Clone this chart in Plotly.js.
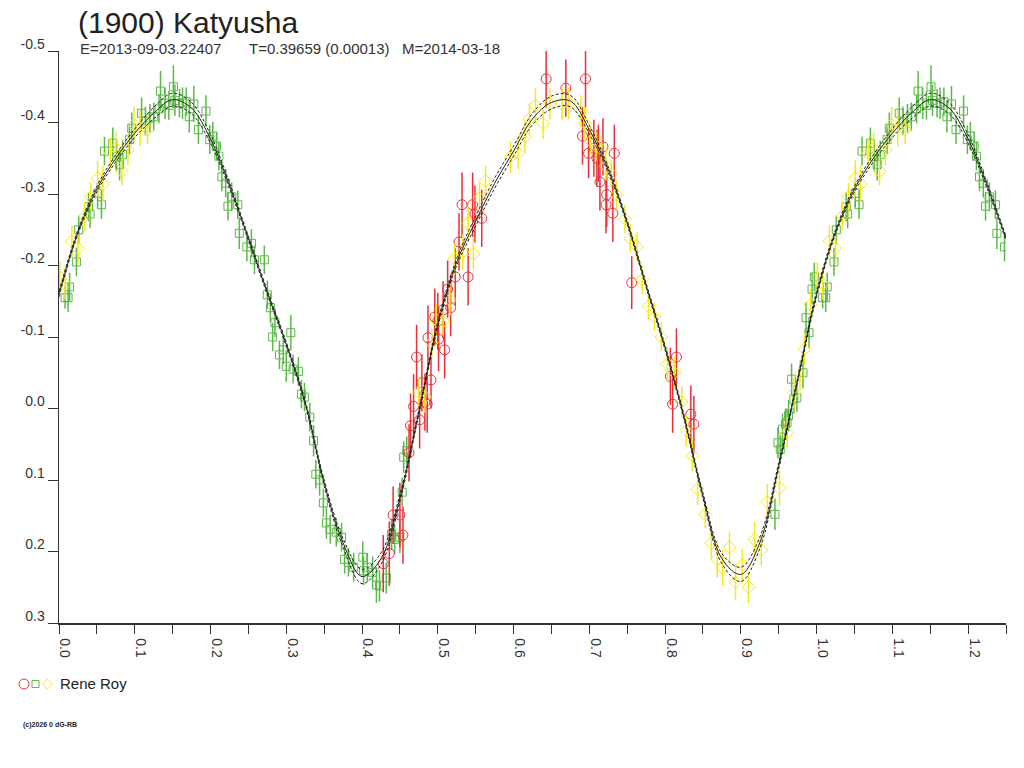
<!DOCTYPE html>
<html>
<head>
<meta charset="utf-8">
<script src="https://cdn.plot.ly/plotly-3.0.1.min.js"></script>
<style>
  html, body { margin: 0; padding: 0; background: #fff; }
  #chart { width: 1024px; height: 768px; }
</style>
</head>
<body>
<div id="chart"></div>
<script>
// observations: [phase, magnitude, error]
const greenObs = [
  [0.008,-0.155,0.015],[0.012,-0.155,0.02],[0.014,-0.170,0.02],[0.023,-0.205,0.02],[0.026,-0.250,0.02],
  [0.039,-0.282,0.02],[0.041,-0.272,0.02],[0.051,-0.301,0.02],[0.056,-0.285,0.02],[0.060,-0.360,0.02],
  [0.071,-0.371,0.022],[0.076,-0.352,0.02],[0.080,-0.341,0.022],[0.084,-0.355,0.02],[0.093,-0.376,0.02],
  [0.096,-0.392,0.022],[0.109,-0.413,0.022],[0.114,-0.402,0.02],[0.120,-0.406,0.02],[0.125,-0.408,0.02],
  [0.132,-0.419,0.02],[0.134,-0.444,0.028],[0.140,-0.427,0.022],[0.145,-0.424,0.02],[0.151,-0.450,0.03],
  [0.153,-0.431,0.022],[0.159,-0.427,0.02],[0.163,-0.427,0.022],[0.168,-0.429,0.02],[0.172,-0.408,0.022],
  [0.178,-0.426,0.025],[0.184,-0.390,0.02],[0.194,-0.416,0.022],[0.199,-0.376,0.02],[0.203,-0.381,0.02],
  [0.208,-0.367,0.02],[0.211,-0.353,0.02],[0.215,-0.324,0.02],[0.220,-0.315,0.02],[0.223,-0.283,0.02],
  [0.228,-0.296,0.02],[0.236,-0.285,0.02],[0.238,-0.245,0.022],[0.248,-0.226,0.02],[0.254,-0.231,0.02],
  [0.258,-0.208,0.02],[0.271,-0.208,0.02],[0.275,-0.159,0.02],[0.279,-0.141,0.02],[0.282,-0.100,0.02],
  [0.285,-0.120,0.02],[0.291,-0.075,0.02],[0.296,-0.082,0.02],[0.300,-0.059,0.022],[0.306,-0.106,0.025],
  [0.309,-0.055,0.02],[0.316,-0.052,0.02],[0.320,-0.020,0.02],[0.324,-0.016,0.02],[0.331,0.012,0.02],
  [0.336,0.045,0.022],[0.339,0.092,0.02],[0.344,0.100,0.022],[0.349,0.132,0.02],[0.353,0.160,0.022],
  [0.358,0.169,0.02],[0.366,0.173,0.02],[0.373,0.180,0.02],[0.377,0.211,0.02],[0.382,0.215,0.02],
  [0.389,0.222,0.02],[0.401,0.208,0.022],[0.402,0.227,0.02],[0.407,0.222,0.02],[0.414,0.229,0.022],
  [0.419,0.247,0.025],[0.423,0.248,0.022],[0.432,0.237,0.022],[0.439,0.176,0.022],[0.443,0.183,0.02],
  [0.450,0.180,0.022],[0.453,0.117,0.02],[0.455,0.068,0.022],[0.459,0.059,0.02],
  [0.945,0.148,0.022],[0.949,0.048,0.022],[0.952,0.057,0.02],[0.955,0.029,0.022],[0.959,0.022,0.022],
  [0.961,0.020,0.02],[0.963,0.010,0.022],[0.967,-0.041,0.022],[0.970,-0.013,0.02],[0.974,-0.015,0.02],
  [0.982,-0.050,0.022],[0.986,-0.127,0.022],[0.990,-0.106,0.022],[0.994,-0.167,0.022],[0.997,-0.184,0.02]
];

const redObs = [
  [0.428,0.217,0.04],[0.436,0.203,0.045],[0.441,0.149,0.04],[0.450,0.149,0.045],[0.454,0.177,0.04],
  [0.462,0.062,0.04],[0.464,0.024,0.045],[0.468,-0.003,0.045],[0.472,-0.072,0.045],[0.476,0.016,0.04],
  [0.479,-0.036,0.04],[0.483,-0.009,0.04],[0.486,-0.006,0.04],[0.487,-0.099,0.045],[0.491,-0.040,0.04],
  [0.496,-0.128,0.04],[0.500,-0.122,0.04],[0.501,-0.097,0.045],[0.507,-0.138,0.04],[0.509,-0.082,0.04],
  [0.513,-0.167,0.04],[0.517,-0.141,0.04],[0.523,-0.184,0.04],[0.528,-0.233,0.04],[0.532,-0.285,0.045],
  [0.540,-0.184,0.04],[0.546,-0.285,0.045],[0.549,-0.272,0.04],[0.558,-0.266,0.04],
  [0.643,-0.461,0.04],[0.669,-0.448,0.04],[0.695,-0.461,0.04],[0.691,-0.381,0.04],[0.699,-0.357,0.035],
  [0.706,-0.364,0.04],[0.710,-0.350,0.04],[0.712,-0.357,0.04],[0.714,-0.317,0.04],[0.718,-0.366,0.04],
  [0.722,-0.285,0.04],[0.723,-0.299,0.045],[0.731,-0.273,0.04],[0.733,-0.357,0.04],[0.756,-0.176,0.037],
  [0.807,-0.045,0.04],[0.810,-0.006,0.04],[0.815,-0.072,0.04],[0.834,0.008,0.04],[0.838,0.022,0.04]
];

const yellowObs = [
  [0.001,-0.183,0.022],[0.008,-0.174,0.022],[0.017,-0.234,0.022],[0.025,-0.224,0.022],[0.034,-0.269,0.02],
  [0.042,-0.296,0.02],[0.051,-0.322,0.025],[0.058,-0.314,0.025],[0.068,-0.357,0.022],[0.075,-0.364,0.022],
  [0.083,-0.332,0.02],[0.091,-0.362,0.022],[0.099,-0.397,0.025],[0.107,-0.392,0.025],[0.117,-0.390,0.02],
  [0.475,-0.023,0.02],[0.483,-0.016,0.022],[0.492,-0.092,0.02],[0.498,-0.124,0.022],[0.507,-0.122,0.02],
  [0.516,-0.152,0.022],[0.522,-0.209,0.022],[0.533,-0.219,0.025],[0.540,-0.259,0.025],[0.547,-0.216,0.022],
  [0.555,-0.294,0.022],[0.563,-0.318,0.022],[0.596,-0.352,0.022],[0.606,-0.357,0.022],[0.615,-0.380,0.022],
  [0.621,-0.405,0.022],[0.629,-0.424,0.025],[0.639,-0.399,0.022],[0.648,-0.426,0.022],[0.664,-0.426,0.022],
  [0.673,-0.427,0.022],[0.689,-0.416,0.022],[0.694,-0.399,0.022],[0.702,-0.374,0.02],[0.709,-0.367,0.02],
  [0.716,-0.362,0.02],[0.722,-0.339,0.02],[0.729,-0.328,0.02],[0.736,-0.299,0.02],[0.747,-0.265,0.02],
  [0.754,-0.238,0.02],[0.763,-0.226,0.02],[0.770,-0.180,0.02],[0.778,-0.143,0.02],[0.786,-0.128,0.02],
  [0.795,-0.100,0.02],[0.803,-0.062,0.025],[0.812,-0.050,0.022],[0.822,-0.009,0.022],[0.828,0.031,0.022],
  [0.836,0.066,0.022],[0.843,0.113,0.022],[0.853,0.148,0.02],[0.861,0.188,0.022],[0.869,0.211,0.025],
  [0.876,0.223,0.025],[0.885,0.194,0.022],[0.893,0.243,0.025],[0.902,0.219,0.022],[0.910,0.250,0.022],
  [0.918,0.183,0.025],[0.927,0.198,0.022],[0.935,0.131,0.025],[0.951,0.111,0.025],[0.961,0.034,0.022],
  [0.970,-0.022,0.022],[0.978,-0.047,0.022],[0.984,-0.083,0.022],[0.992,-0.145,0.022]
];

// fourier fit, one full period
const fitPhase = [0.000,0.025,0.050,0.075,0.100,0.125,0.150,0.175,0.200,0.225,0.250,0.275,0.300,0.325,
  0.350,0.375,0.400,0.425,0.450,0.475,0.500,0.525,0.550,0.575,0.600,0.625,0.650,0.675,0.700,0.725,
  0.750,0.775,0.800,0.825,0.850,0.875,0.900,0.925,0.950,0.975,1.000];
const fitMag = [-0.160,-0.247,-0.307,-0.350,-0.385,-0.413,-0.432,-0.420,-0.377,-0.312,-0.238,-0.162,
  -0.090,-0.008,0.104,0.188,0.235,0.210,0.125,0.005,-0.118,-0.205,-0.262,-0.315,-0.360,-0.405,-0.428,
  -0.430,-0.390,-0.334,-0.260,-0.172,-0.085,0.012,0.122,0.210,0.232,0.188,0.080,-0.040,-0.160];
const fitSpread = [0.004,0.003,0.004,0.005,0.006,0.008,0.009,0.008,0.006,0.004,0.003,0.003,0.003,0.003,
  0.004,0.006,0.010,0.008,0.005,0.003,0.004,0.005,0.007,0.007,0.007,0.008,0.009,0.008,0.006,0.004,
  0.003,0.003,0.003,0.003,0.004,0.007,0.010,0.008,0.004,0.003,0.004];

const xTickVals = [0.0,0.1,0.2,0.3,0.4,0.5,0.6,0.7,0.8,0.9,1.0,1.1,1.2];
const xTickText = ['0.0','0.1','0.2','0.3','0.4','0.5','0.6','0.7','0.8','0.9','1.0','1.1','1.2'];
const yTickVals = [-0.5,-0.4,-0.3,-0.2,-0.1,0.0,0.1,0.2,0.3];
const yTickText = ['-0.5','-0.4','-0.3','-0.2','-0.1','0.0','0.1','0.2','0.3'];

const RED = '#e8303a', GREEN = '#5cb848', YELLOW = '#f7e81c', INK = '#333';

// the phase plot repeats the first quarter after phase 1
function wrap(pts) {
  const out = pts.slice();
  pts.forEach(p => { if (p[0] <= 0.25) out.push([p[0] + 1, p[1], p[2]]); });
  return out;
}

function obsTrace(pts, color, symbol, size) {
  const w = wrap(pts);
  return {
    x: w.map(p => p[0]),
    y: w.map(p => p[1]),
    mode: 'markers',
    type: 'scatter',
    showlegend: false,
    hoverinfo: 'skip',
    marker: { symbol: symbol, size: size, color: color, line: { color: color, width: 1 } },
    error_y: { type: 'data', array: w.map(p => p[2]), visible: true, width: 0, thickness: 1.5, color: color }
  };
}

const fx = [], fy = [], fs = [];
fitPhase.forEach((p, i) => { fx.push(p); fy.push(fitMag[i]); fs.push(fitSpread[i]); });
fitPhase.forEach((p, i) => {
  if (p > 0 && p <= 0.25) { fx.push(p + 1); fy.push(fitMag[i]); fs.push(fitSpread[i]); }
});

function fitTrace(sign, dash, width) {
  return {
    x: fx,
    y: fy.map((v, i) => v + sign * fs[i]),
    mode: 'lines',
    type: 'scatter',
    showlegend: false,
    hoverinfo: 'skip',
    line: { color: '#222', width: width, dash: dash, shape: 'spline', smoothing: 1 }
  };
}

const traces = [
  obsTrace(greenObs, GREEN, 'square-open', 8),
  obsTrace(redObs, RED, 'circle-open', 10),
  obsTrace(yellowObs, YELLOW, 'diamond-open', 10),
  fitTrace(-1, '3px,2px', 1),
  fitTrace(1, '3px,2px', 1),
  fitTrace(0, 'solid', 1)
];

// pixel helpers for the paper-positioned decorations
const L = 59, R = 1006, T = 51, B = 623;
const px = v => (v - L) / (R - L);
const py = v => (B - v) / (B - T);
const font = { family: 'Liberation Sans, Arial, sans-serif', color: INK };

const layout = {
  width: 1024,
  height: 768,
  margin: { l: L, r: 1024 - R, t: T, b: 768 - B },
  paper_bgcolor: '#fff',
  plot_bgcolor: '#fff',
  showlegend: false,
  title: {
    text: '(1900) Katyusha',
    font: { family: font.family, size: 30, color: '#222' },
    xref: 'container', x: 78 / 1024, xanchor: 'left',
    yref: 'container', y: 1 - 22 / 768, yanchor: 'middle'
  },
  xaxis: {
    range: [0, 1.25],
    tickmode: 'array', tickvals: xTickVals, ticktext: xTickText,
    tickangle: 90,
    ticks: 'outside', ticklen: 9, tickwidth: 1, tickcolor: INK,
    minor: { dtick: 0.05, tick0: 0, ticks: 'outside', ticklen: 9, tickwidth: 1, tickcolor: INK },
    showline: true, linecolor: INK, linewidth: 1.5,
    showgrid: false, zeroline: false,
    tickfont: { family: font.family, size: 14, color: INK },
    ticklabelshift: 6,
    ticklabelstandoff: 2,
    automargin: false
  },
  yaxis: {
    range: [0.3, -0.5],
    tickmode: 'array', tickvals: yTickVals, ticktext: yTickText,
    ticks: 'outside', ticklen: 10, tickwidth: 1, tickcolor: INK,
    showline: true, linecolor: INK, linewidth: 1.5,
    showgrid: false, zeroline: false,
    tickfont: { family: font.family, size: 14, color: INK },
    ticklabelshift: 7,
    ticklabelstandoff: 0,
    automargin: false
  },
  annotations: [
    { text: 'E=2013-09-03.22407', x: px(78), y: py(48) },
    { text: 'T=0.39659 (0.00013)', x: px(247), y: py(48) },
    { text: 'M=2014-03-18', x: px(400), y: py(48) }
  ].map(a => Object.assign(a, {
    xref: 'paper', yref: 'paper', xanchor: 'left', yanchor: 'middle', showarrow: false,
    font: { family: font.family, size: 15, color: INK }
  })).concat([
    { text: 'Rene Roy', x: px(58), y: py(683), xref: 'paper', yref: 'paper', xanchor: 'left',
      yanchor: 'middle', showarrow: false, font: { family: font.family, size: 15, color: '#222' } },
    { text: '<b>(c)2026 0 dG-RB</b>', x: px(21), y: py(725), xref: 'paper', yref: 'paper',
      xanchor: 'left', yanchor: 'middle', showarrow: false,
      font: { family: font.family, size: 7, color: '#222' } }
  ]),
  shapes: [
    { type: 'circle', xref: 'paper', yref: 'paper', xsizemode: 'pixel', ysizemode: 'pixel',
      xanchor: px(24), yanchor: py(684), x0: -5, x1: 5, y0: -5, y1: 5,
      line: { color: RED, width: 1 } },
    { type: 'rect', xref: 'paper', yref: 'paper', xsizemode: 'pixel', ysizemode: 'pixel',
      xanchor: px(35.5), yanchor: py(684), x0: -3.5, x1: 3.5, y0: -3.5, y1: 3.5,
      line: { color: GREEN, width: 1 } },
    { type: 'path', xref: 'paper', yref: 'paper', xsizemode: 'pixel', ysizemode: 'pixel',
      xanchor: px(47.5), yanchor: py(684), path: 'M -5 0 L 0 5 L 5 0 L 0 -5 Z',
      line: { color: YELLOW, width: 1 } }
  ]
};

Plotly.newPlot('chart', traces, layout, { displayModeBar: false, staticPlot: true });
</script>
</body>
</html>
